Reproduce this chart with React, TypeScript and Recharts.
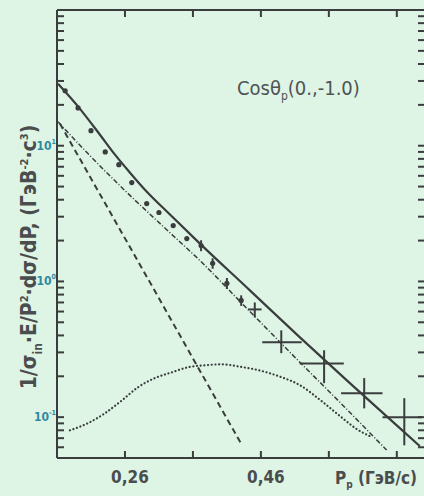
import React from 'react';
import { ComposedChart, Line, Scatter, XAxis, YAxis, ErrorBar } from 'recharts';

// measured points (dots), P in GeV/c
const dotP = [0.172, 0.191, 0.21, 0.231, 0.251, 0.27, 0.292, 0.31, 0.331, 0.351, 0.372, 0.389, 0.41, 0.431];
const dotY = [25.4, 19.0, 12.9, 9.0, 7.25, 5.35, 3.75, 3.22, 2.58, 2.07, 1.84, 1.36, 0.97, 0.725];
const dotErr = [0, 0, 0, 0, 0, 0, 0, 0, 0, 0, 0.17, 0.12, 0.09, 0.065];

// points with crosses
const crossP = [0.451, 0.49, 0.553, 0.612, 0.671];
const crossY = [0.622, 0.356, 0.249, 0.15, 0.1];
const crossPLo = [0.441, 0.462, 0.517, 0.578, 0.639];
const crossPHi = [0.461, 0.52, 0.582, 0.639, 0.697];
const crossYLo = [0.543, 0.296, 0.178, 0.116, 0.062];
const crossYHi = [0.7, 0.436, 0.311, 0.194, 0.138];

// curves
const solidP = [0.1615, 0.1938, 0.2232, 0.2453, 0.2674, 0.2894, 0.3262, 0.3703, 0.4438, 0.5174, 0.5909, 0.6644, 0.6938];
const solidY = [28.6, 18.7, 12.05, 8.59, 6.33, 4.74, 3.11, 1.9, 0.859, 0.387, 0.178, 0.083, 0.0612];

const dashDotP = [0.1615, 0.2085, 0.26, 0.326, 0.37, 0.4335, 0.513, 0.576, 0.645];
const dashDotY = [15.0, 8.44, 4.67, 2.29, 1.43, 0.678, 0.267, 0.129, 0.0572];

const dashedP = [0.1644, 0.2968, 0.4321];
const dashedY = [14.5, 0.984, 0.0622];

const dottedP = [0.179, 0.2056, 0.2306, 0.2556, 0.2791, 0.3041, 0.3291, 0.3526, 0.3776, 0.4026, 0.432, 0.4512, 0.4865, 0.5174, 0.5512, 0.5762, 0.6012, 0.6232];
const dottedY = [0.08, 0.0903, 0.107, 0.133, 0.166, 0.194, 0.214, 0.233, 0.241, 0.245, 0.234, 0.225, 0.2, 0.172, 0.129, 0.102, 0.0816, 0.0713];

// axes
const pMin = 0.16;
const pMax = 0.7;
const yMin = 0.05;
const yMax = 100;
const xTicks = [0.26, 0.36, 0.46, 0.56, 0.66];
const xLabels: Record<string, string> = { '0.26': '0,26', '0.46': '0,46' };
const yMinor = [
  0.05, 0.06, 0.07, 0.08, 0.09, 0.1, 0.2, 0.3, 0.4, 0.5, 0.6, 0.7, 0.8, 0.9,
  1, 2, 3, 4, 5, 6, 7, 8, 9, 10, 20, 30, 40, 50, 60, 70, 80, 90, 100,
];
const yLabelTicks = [0.1, 1, 10];
const yExp: Record<string, string> = { '0.1': '-1', '1': '0', '10': '1' };

const ink = '#3a3d3d';
const bg = '#def4e5';
const font = '"Liberation Sans Narrow", "DejaVu Sans Condensed", "Liberation Sans", sans-serif';
const TICK = 7;

const toPairs = (xs: number[], ys: number[]) => xs.map((p, i) => ({ p, y: ys[i] }));

const dots = dotP.map((p, i) => ({ p, y: dotY[i], e: dotErr[i] }));
const crosses = crossP.map((p, i) => ({
  p,
  y: crossY[i],
  ex: [p - crossPLo[i], crossPHi[i] - p],
  ey: [crossY[i] - crossYLo[i], crossYHi[i] - crossY[i]],
}));

// inward tick marks, placed through the chart's own scales
const leftTicks = yMinor.map((y) => ({ p: pMin, y }));
const rightTicks = yMinor.map((y) => ({ p: pMax, y }));
const bottomTicks = xTicks.map((p) => ({ p, y: yMin }));
const topTicks = xTicks.map((p) => ({ p, y: yMax }));

const tickShape = (dx: number, dy: number) => (props: any) => (
  <line x1={props.cx} y1={props.cy} x2={props.cx + dx} y2={props.cy + dy} stroke={ink} strokeWidth={2} />
);

const BottomLabel = (props: any) => {
  const { x, y, payload } = props;
  const t = xLabels[String(payload.value)];
  if (!t) return <g />;
  return (
    <text x={x + 5} y={y + 13} dy="0.71em" textAnchor="middle" fontFamily={font} fontWeight={700} fontSize={17} fill="#4a4d4d">
      {t}
    </text>
  );
};

const LeftLabel = (props: any) => {
  const { x, y, payload } = props;
  const e = yExp[String(payload.value)];
  if (e === undefined) return <g />;
  return (
    <text x={x - 1} y={y + 4} textAnchor="end" fontFamily={font} fontWeight={700} fontSize={12} fill="#2f8aa0">
      10
      <tspan dy={-6} fontSize={7}>{e}</tspan>
    </text>
  );
};

const Dot = (props: any) => <circle cx={props.cx} cy={props.cy} r={2.6} fill={ink} />;

export default function App() {
  return (
    <div style={{ position: 'absolute', left: 0, top: 0, width: 424, height: 496, background: bg, overflow: 'hidden' }}>
      <ComposedChart width={424} height={496} margin={{ top: 0, right: 0, bottom: 0, left: 0 }}>
        <XAxis
          xAxisId="b"
          type="number"
          dataKey="p"
          domain={[pMin, pMax]}
          allowDataOverflow
          ticks={xTicks}
          interval={0}
          tickLine={false}
          tickSize={0}
          tickMargin={0}
          height={38}
          stroke={ink}
          strokeWidth={2}
          tick={BottomLabel}
        />
        <XAxis
          xAxisId="t"
          orientation="top"
          type="number"
          dataKey="p"
          domain={[pMin, pMax]}
          allowDataOverflow
          tick={false}
          tickLine={false}
          height={10}
          stroke={ink}
          strokeWidth={2}
        />
        <YAxis
          yAxisId="l"
          type="number"
          scale="log"
          domain={[yMin, yMax]}
          allowDataOverflow
          ticks={yLabelTicks}
          interval={0}
          tickLine={false}
          tickSize={0}
          tickMargin={0}
          width={57}
          stroke={ink}
          strokeWidth={2}
          tick={LeftLabel}
        />
        <YAxis
          yAxisId="r"
          orientation="right"
          type="number"
          scale="log"
          domain={[yMin, yMax]}
          allowDataOverflow
          tick={false}
          tickLine={false}
          width={0}
          stroke={ink}
          strokeWidth={2}
        />
        <Scatter xAxisId="b" yAxisId="l" data={leftTicks} dataKey="y" shape={tickShape(TICK, 0)} isAnimationActive={false} />
        <Scatter xAxisId="b" yAxisId="l" data={rightTicks} dataKey="y" shape={tickShape(-TICK + 1, 0)} isAnimationActive={false} />
        <Scatter xAxisId="b" yAxisId="l" data={bottomTicks} dataKey="y" shape={tickShape(0, -TICK)} isAnimationActive={false} />
        <Scatter xAxisId="b" yAxisId="l" data={topTicks} dataKey="y" shape={tickShape(0, TICK)} isAnimationActive={false} />
        <Line xAxisId="b" yAxisId="l" data={toPairs(dottedP, dottedY)} dataKey="y" type="monotone" stroke={ink} strokeWidth={2.2} strokeDasharray="0.1 3.6" strokeLinecap="round" dot={false} isAnimationActive={false} />
        <Line xAxisId="b" yAxisId="l" data={toPairs(dashedP, dashedY)} dataKey="y" type="linear" stroke={ink} strokeWidth={2} strokeDasharray="6 4" dot={false} isAnimationActive={false} />
        <Line xAxisId="b" yAxisId="l" data={toPairs(dashDotP, dashDotY)} dataKey="y" type="monotone" stroke={ink} strokeWidth={1.5} strokeDasharray="5 2 1 2" dot={false} isAnimationActive={false} />
        <Line xAxisId="b" yAxisId="l" data={toPairs(solidP, solidY)} dataKey="y" type="monotone" stroke={ink} strokeWidth={2.2} dot={false} isAnimationActive={false} />
        <Scatter xAxisId="b" yAxisId="l" data={dots} dataKey="y" fill={ink} shape={Dot} isAnimationActive={false}>
          <ErrorBar dataKey="e" direction="y" width={0} stroke={ink} strokeWidth={2} />
        </Scatter>
        <Scatter xAxisId="b" yAxisId="l" data={crosses} dataKey="y" fill="none" shape={() => <g />} isAnimationActive={false}>
          <ErrorBar dataKey="ex" direction="x" width={0} stroke={ink} strokeWidth={2} />
          <ErrorBar dataKey="ey" direction="y" width={0} stroke={ink} strokeWidth={2} />
        </Scatter>
      </ComposedChart>
      <div
        style={{
          position: 'absolute', left: 31, top: 257, transform: 'translate(-50%, -50%) rotate(-90deg)',
          whiteSpace: 'nowrap', fontFamily: font, fontWeight: 700, fontSize: 21, color: '#4a4d4d',
        }}
      >
        1/σ<sub style={{ fontSize: 12 }}>in</sub>·E/P<sup style={{ fontSize: 11 }}>2</sup>·dσ/dP, (ГэВ<sup style={{ fontSize: 11 }}>-2</sup>·c<sup style={{ fontSize: 11 }}>3</sup>)
      </div>
      <div style={{ position: 'absolute', left: 237, top: 76, whiteSpace: 'nowrap', fontFamily: font, fontSize: 20, color: '#4f5354' }}>
        Cosθ<sub style={{ fontSize: 12 }}>p</sub>(0.,-1.0)
      </div>
      <div style={{ position: 'absolute', left: 335, top: 468, whiteSpace: 'nowrap', fontFamily: font, fontWeight: 700, fontSize: 17, color: '#4a4d4d' }}>
        P<sub style={{ fontSize: 10 }}>p</sub> (ГэВ/c)
      </div>
    </div>
  );
}
